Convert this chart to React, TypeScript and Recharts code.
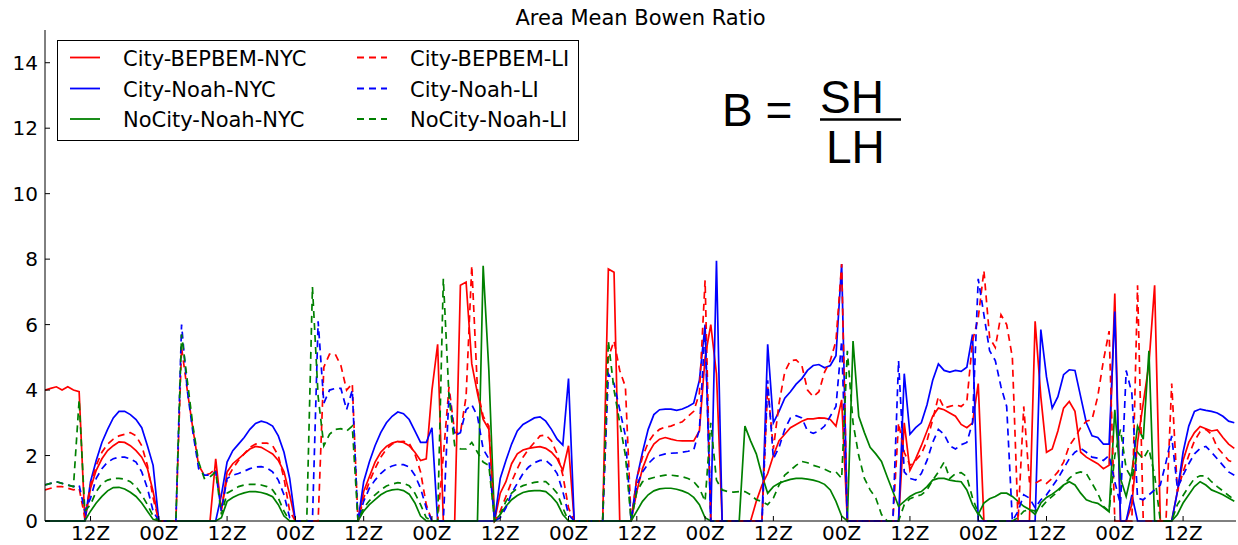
import React from 'react';
import { LineChart, Line, XAxis, YAxis } from 'recharts';

// hourly samples, hour 0 = 04Z on the first day
const redNyc = [
  4.0, 4.05, 4.1, 4.0, 4.1, 4.0, 3.95, 0, 1.0, 1.55,
  1.9, 2.15, 2.3, 2.42, 2.4, 2.3, 2.15, 1.95, 1.6, 0.9,
  0, 0, 0, 0, 0, 0, 0, 0, 0, 0,
  1.9, 0.3, 1.5, 1.75, 1.9, 2.05, 2.2, 2.28, 2.25, 2.15,
  2.05, 1.85, 1.5, 0.8, 0, 0, 0, 0, 0, 0,
  0, 0, 0, 0, 0, 0, 0.9, 1.35, 1.8, 2.1,
  2.28, 2.38, 2.43, 2.4, 2.3, 2.1, 1.85, 1.9, 4.0, 5.4,
  0, 0, 0, 7.2, 7.3, 4.8, 3.9, 3.1, 2.8, 0,
  0.85, 1.2, 1.75, 2.05, 2.17, 2.22, 2.25, 2.27, 2.22, 2.1,
  1.9, 1.55, 2.3, 0, 0, 0, 0, 0, 0, 7.7,
  7.6, 0, 0, 0, 0.9, 1.6, 2.05, 2.35, 2.5, 2.55,
  2.5, 2.46, 2.45, 2.45, 2.45, 2.75, 5.0, 6.0, 4.5, 0,
  0, 0, 0, 0, 0, 0.6, 1.1, 1.45, 2.0, 2.45,
  2.65, 2.85, 2.95, 3.05, 3.12, 3.12, 3.15, 3.14, 3.1, 2.9,
  3.7, 0, 0, 0, 0, 0, 0, 0, 0, 0,
  0, 3.0, 1.55, 1.9, 2.3, 2.75, 3.2, 3.45, 3.4, 3.3,
  3.2, 2.95, 2.85, 3.0, 4.2, 0, 0, 0, 0, 0,
  0, 0, 0, 0, 6.1, 3.8, 2.1, 2.2, 2.75, 3.45,
  3.65, 3.35, 2.1, 1.95, 1.85, 1.75, 1.6, 1.7, 6.95, 0,
  0, 0.5, 2.4, 3.6, 4.8, 7.2, 0, 0, 0, 0.9,
  1.85, 2.4, 2.7, 2.89, 2.82, 2.75, 2.78, 2.55, 2.35, 2.22,
];

const blueNyc = [
  0, 0, 0, 0, 0, 0, 0, 0, 1.2, 1.85,
  2.4, 2.8, 3.15, 3.35, 3.35, 3.25, 3.1, 2.85, 2.3, 1.7,
  0, 0, 0, 0, 0, 0, 0, 0, 0, 0,
  0, 0.8, 1.8, 2.15, 2.35, 2.55, 2.8, 2.98, 3.05, 3.0,
  2.9, 2.6, 2.1, 1.3, 0, 0, 0, 0, 0, 0,
  0, 0, 0, 0, 0, 0, 1.2, 1.8, 2.3, 2.7,
  3.0, 3.2, 3.33, 3.28, 3.1, 2.75, 2.4, 2.4, 2.85, 0,
  0, 0, 0, 0, 0, 0, 0, 0, 0, 0,
  1.3, 1.85, 2.35, 2.75, 2.95, 3.05, 3.15, 3.18, 3.05, 2.8,
  2.5, 2.32, 4.35, 0, 0, 0, 0, 0, 0, 0,
  0, 0, 0, 0, 1.3, 2.1, 2.8, 3.25, 3.4, 3.42,
  3.42, 3.38, 3.42, 3.5, 3.6, 4.3, 6.0, 0, 7.95, 0,
  0, 0, 0, 0, 0, 0, 0, 5.4, 3.0, 3.35,
  3.75, 3.95, 4.18, 4.35, 4.6, 4.75, 4.78, 4.68, 4.75, 5.05,
  7.85, 0, 0, 0, 0, 0, 0, 0, 0, 0,
  0, 4.5, 2.65, 2.85, 3.0, 3.55, 4.3, 4.8, 4.6, 4.55,
  4.6, 4.57, 4.7, 5.7, 0, 0, 0, 0, 0, 0,
  0, 0, 0, 0, 0, 5.85, 4.4, 3.45, 3.8, 4.47,
  4.62, 4.6, 3.8, 3.0, 2.6, 2.55, 2.35, 2.35, 6.4, 0,
  0, 0.8, 0, 0, 0, 0, 0, 0, 0, 0.9,
  2.1, 2.9, 3.35, 3.42, 3.38, 3.35, 3.3, 3.2, 3.05, 3.0,
];

const greenNyc = [
  0, 0, 0, 0, 0, 0, 0, 0, 0.3, 0.55,
  0.75, 0.92, 1.02, 1.03, 0.98, 0.88, 0.75, 0.55, 0.3, 0.05,
  0, 0, 0, 0, 0, 0, 0, 0, 0, 0,
  0, 0.1, 0.6, 0.72, 0.8, 0.86, 0.9, 0.9, 0.87, 0.82,
  0.74, 0.5, 0.15, 0, 0, 0, 0, 0, 0, 0,
  0, 0, 0, 0, 0, 0, 0.3, 0.5, 0.65, 0.8,
  0.9, 0.95, 0.97, 0.93, 0.82, 0.55, 0.15, 0, 0, 0,
  0, 0, 0, 0, 0, 0, 0, 7.8, 4.6, 0,
  0.2, 0.45, 0.65, 0.78, 0.87, 0.91, 0.93, 0.93, 0.9, 0.75,
  0.55, 0.2, 0, 0, 0, 0, 0, 0, 0, 0,
  0, 0, 0, 0, 0.3, 0.6, 0.8, 0.92, 0.98, 1.0,
  1.0, 0.97, 0.92, 0.85, 0.72, 0.5, 0.1, 0, 0, 0,
  0, 0, 0, 2.9, 2.45, 2.05, 1.4, 0.85, 1.05, 1.15,
  1.22, 1.27, 1.3, 1.3, 1.28, 1.25, 1.2, 1.12, 0.95, 0.6,
  0.15, 0, 5.5, 3.2, 2.7, 2.25, 2.05, 1.82, 1.35, 0.9,
  0.45, 0.6, 0.75, 0.85, 0.9, 1.05, 1.25, 1.3, 1.3, 1.25,
  1.22, 1.2, 0.95, 0.5, 0.2, 0.55, 0.68, 0.75, 0.85, 0.85,
  0.75, 0.6, 0.45, 0.35, 0.2, 0.55, 0.72, 0.82, 0.95, 1.1,
  1.2, 1.1, 0.85, 0.65, 0.58, 0.54, 0.42, 0.28, 3.4, 1.3,
  0.75, 1.5, 2.9, 2.5, 5.2, 0, 0, 0, 0, 0.2,
  0.55, 0.8, 1.05, 1.2, 1.1, 0.95, 0.88, 0.8, 0.7, 0.6,
];

const redLi = [
  0.95, 1.0, 1.05, 1.05, 1.0, 0.95, 1.0, 0.1, 1.1, 1.7,
  2.1, 2.35, 2.5, 2.6, 2.65, 2.7, 2.6, 2.3, 1.7, 0.7,
  0, 0, 0, 0, 5.3, 4.0, 2.8, 1.7, 1.4, 1.45,
  1.6, 0.4, 1.3, 1.6, 1.85, 2.05, 2.25, 2.35, 2.38, 2.38,
  2.3, 2.0, 1.3, 0.3, 0, 0, 0, 0, 0, 4.7,
  5.1, 5.1, 4.75, 4.0, 4.2, 0, 0.7, 1.2, 1.6, 1.95,
  2.2, 2.35, 2.42, 2.43, 2.38, 2.05, 1.5, 0.5, 0, 0,
  2.0, 4.1, 2.7, 2.7, 3.8, 7.8, 4.0, 3.2, 2.9, 0,
  0.3, 0.75, 1.2, 1.6, 1.95, 2.2, 2.4, 2.6, 2.63, 2.45,
  2.05, 1.4, 0.4, 0, 0, 0, 0, 0, 0, 5.0,
  5.5, 4.6, 4.1, 0, 1.3, 1.95, 2.4, 2.65, 2.8, 2.87,
  2.9, 2.97, 3.03, 3.2, 3.35, 3.9, 7.35, 0, 0, 0,
  0, 0, 0, 0, 0, 0, 0, 4.1, 2.2, 3.6,
  4.55, 4.9, 4.92, 4.75, 4.0, 3.8, 3.95, 4.55, 4.9, 5.5,
  7.85, 0, 0, 0, 0, 0, 0, 0, 0, 0,
  3.0, 2.1, 1.7, 1.85, 2.05, 2.45, 3.1, 3.8, 3.45, 3.5,
  3.55, 3.5, 3.65, 5.5, 6.2, 7.65, 5.6, 5.3, 6.3, 6.0,
  5.0, 0, 3.5, 1.2, 1.15, 1.25, 1.15, 1.3, 1.5, 1.8,
  2.3, 2.55, 2.85, 3.05, 3.1, 3.8, 4.9, 5.8, 0, 0,
  0, 0, 7.2, 0, 0, 0, 0, 0, 4.2, 0.9,
  1.5, 2.0, 2.45, 2.73, 2.8, 2.65, 2.25, 2.05, 1.85, 1.78,
];

const blueLi = [
  1.1, 1.15, 1.2, 1.15, 1.1, 1.05, 1.1, 0.3, 0.7, 1.3,
  1.6, 1.8, 1.9, 1.95, 1.95, 1.9, 1.8, 1.5, 1.0, 0.3,
  0, 0, 0, 0, 6.0, 4.0, 2.7, 1.6, 1.4, 1.4,
  1.5, 0.3, 1.3, 1.4, 1.45, 1.52, 1.6, 1.65, 1.66, 1.62,
  1.5, 1.25, 0.8, 0.1, 0, 0, 0, 0, 6.1, 3.6,
  4.0, 4.05, 4.05, 3.4, 4.0, 0, 0.6, 1.0, 1.25, 1.45,
  1.6, 1.68, 1.73, 1.72, 1.65, 1.4, 1.0, 0.4, 0, 0,
  0, 3.9, 2.6, 2.7, 3.4, 3.55, 3.2, 2.2, 1.9, 0,
  0.1, 0.4, 0.85, 1.15, 1.45, 1.65, 1.78, 1.85, 1.85, 1.7,
  1.45, 0.9, 0.2, 0, 0, 0, 0, 0, 0, 4.5,
  4.2, 3.4, 2.6, 0, 1.1, 1.5, 1.75, 1.92, 2.0, 2.05,
  2.07, 2.08, 2.1, 2.13, 2.17, 2.8, 5.9, 0, 0, 0,
  0, 0, 0, 0, 0, 0, 0, 4.3, 1.9, 2.25,
  2.8, 3.15, 3.22, 3.15, 2.75, 2.68, 2.75, 2.9, 3.2, 3.5,
  5.5, 0, 0, 0, 0, 0, 0, 0, 0, 0,
  4.9, 1.5, 1.3, 1.25, 1.45, 1.85, 2.4, 2.8, 2.65, 2.3,
  2.2, 2.33, 2.4, 3.0, 7.4, 6.3, 5.2, 4.9, 4.1, 3.5,
  0, 0.3, 0.8, 0.7, 0.4, 0.65, 0.8, 1.05, 1.3, 1.6,
  1.9, 2.1, 2.22, 2.1, 1.95, 1.92, 1.85, 2.0, 1.2, 0.5,
  4.6, 3.9, 0.7, 0.65, 0.8, 0.95, 1.1, 1.8, 2.6, 1.0,
  1.4, 1.75, 2.05, 2.22, 2.28, 2.1, 1.9, 1.7, 1.5, 1.4,
];

const greenLi = [
  1.1, 1.15, 1.2, 1.15, 1.1, 1.05, 3.7, 0.3, 0.5, 0.9,
  1.15, 1.25, 1.3, 1.3, 1.28, 1.2, 1.05, 0.8, 0.5, 0.15,
  0, 0, 0, 0, 5.7, 4.3, 2.9, 1.8, 1.3, 1.35,
  1.5, 0.2, 0.85, 0.95, 1.05, 1.1, 1.12, 1.12, 1.1, 1.05,
  0.95, 0.7, 0.3, 0, 0, 0, 0, 7.15, 3.8, 2.3,
  2.65, 2.8, 2.82, 2.75, 2.9, 0, 0.4, 0.62, 0.8, 0.95,
  1.07, 1.13, 1.17, 1.15, 1.08, 0.85, 0.5, 0.1, 0, 0,
  7.4, 3.8, 2.3, 2.2, 2.2, 2.4, 2.1, 1.8, 1.7, 0,
  0.2, 0.6, 0.85, 1.0, 1.08, 1.13, 1.18, 1.2, 1.2, 1.05,
  0.85, 0.4, 0, 0, 0, 0, 0, 0, 0, 5.5,
  4.0, 3.0, 2.0, 0, 0.9, 1.2, 1.28, 1.33, 1.37, 1.4,
  1.4, 1.38, 1.35, 1.3, 1.2, 1.0, 0.6, 3.0, 1.25, 0.95,
  0.9, 0.88, 0.9, 0.9, 0.8, 0.65, 0.6, 0.5, 0.7, 1.1,
  1.4, 1.55, 1.7, 1.82, 1.78, 1.7, 1.65, 1.58, 1.5, 1.5,
  1.3, 5.2, 3.0, 2.0, 1.3, 0.95, 0.7, 0.2, 0, 0,
  0, 0.5, 0.68, 0.75, 0.8, 0.95, 1.25, 1.5, 1.8, 1.3,
  1.45, 1.48, 1.35, 0.7, 0.25, 0, 0, 0, 0, 0,
  0, 0.1, 0.3, 0.35, 0.3, 0.4, 0.6, 0.75, 0.9, 1.1,
  1.3, 1.45, 1.5, 1.45, 1.15, 0.85, 0.45, 0.3, 2.0, 2.8,
  1.6, 1.3, 2.1, 1.9, 2.2, 1.4, 0, 0, 0, 0.5,
  0.78, 1.05, 1.3, 1.38, 1.38, 1.2, 1.05, 0.92, 0.78, 0.65,
];

const tickHours = [8, 20, 32, 44, 56, 68, 80, 92, 104, 116, 128, 140, 152, 164, 176, 188, 200];
const tickLabels = ['12Z', '00Z', '12Z', '00Z', '12Z', '00Z', '12Z', '00Z', '12Z', '00Z', '12Z', '00Z', '12Z', '00Z', '12Z', '00Z', '12Z'];
const yTicks = [0, 2, 4, 6, 8, 10, 12, 14];

const series = [
  { key: 'redNyc', name: 'City-BEPBEM-NYC', color: '#ff0000', dashed: false, values: redNyc },
  { key: 'blueNyc', name: 'City-Noah-NYC', color: '#0000ff', dashed: false, values: blueNyc },
  { key: 'greenNyc', name: 'NoCity-Noah-NYC', color: '#008000', dashed: false, values: greenNyc },
  { key: 'redLi', name: 'City-BEPBEM-LI', color: '#ff0000', dashed: true, values: redLi },
  { key: 'blueLi', name: 'City-Noah-LI', color: '#0000ff', dashed: true, values: blueLi },
  { key: 'greenLi', name: 'NoCity-Noah-LI', color: '#008000', dashed: true, values: greenLi },
];

const rows = redNyc.map((_, i) => {
  const row: Record<string, number> = { hour: i };
  series.forEach((s) => {
    row[s.key] = s.values[i];
  });
  return row;
});

const FONT = 'DejaVu Sans';
const DASH = '7 5';
const tickStyle = { fill: '#000', fontSize: 20, fontFamily: FONT };

function Overlay() {
  const rowsY = [57.5, 88.5, 119];
  return (
    <svg width={1238} height={545} style={{ position: 'absolute', left: 0, top: 0, pointerEvents: 'none' }}>
      <text x={640.5} y={25} textAnchor="middle" fontSize={21} fontFamily={FONT} fill="#000">
        Area Mean Bowen Ratio
      </text>
      <rect x={57.5} y={40.5} width={521} height={100} fill="#fff" stroke="#000" strokeWidth={1} />
      {series.map((s, i) => {
        const col = i < 3 ? 0 : 1;
        const y = rowsY[i % 3];
        const lx = col === 0 ? 70 : 357;
        const tx = col === 0 ? 123 : 410;
        return (
          <g key={s.key}>
            <line x1={lx} x2={lx + 30} y1={y} y2={y} stroke={s.color} strokeWidth={1.8}
              strokeDasharray={s.dashed ? DASH : undefined} />
            <text x={tx} y={y + 8} fontSize={21} fontFamily={FONT} fill="#000">{s.name}</text>
          </g>
        );
      })}
      <g fontFamily="Liberation Sans" fontSize={46} fill="#000">
        <text x={722} y={126}>B =</text>
        <text x={820} y={113}>SH</text>
        <text x={826} y={163}>LH</text>
      </g>
      <line x1={820} x2={901} y1={119.5} y2={119.5} stroke="#000" strokeWidth={2.5} />
    </svg>
  );
}

export default function App() {
  return (
    <div style={{ position: 'absolute', left: 0, top: 0, width: 1238, height: 545, background: '#fff' }}>
      <LineChart width={1238} height={545} data={rows} margin={{ top: 30, right: 2, bottom: 0, left: 0 }}>
        <XAxis
          dataKey="hour"
          type="number"
          domain={[0, 209.3]}
          allowDataOverflow
          ticks={tickHours}
          interval={0}
          tickFormatter={(v: number) => tickLabels[tickHours.indexOf(v)]}
          height={24}
          tickSize={-5}
          tickMargin={10}
          axisLine={{ stroke: '#000' }}
          tickLine={{ stroke: '#000' }}
          tick={tickStyle}
        />
        <XAxis
          xAxisId="top"
          orientation="top"
          dataKey="hour"
          type="number"
          domain={[0, 209.3]}
          allowDataOverflow
          ticks={tickHours}
          interval={0}
          height={0}
          tickSize={-5}
          tick={false}
          axisLine={{ stroke: '#000' }}
          tickLine={{ stroke: '#000' }}
        />
        <YAxis
          type="number"
          domain={[0, 15]}
          ticks={yTicks}
          interval={0}
          width={45}
          tickSize={-5}
          tickMargin={12}
          axisLine={{ stroke: '#000' }}
          tickLine={{ stroke: '#000' }}
          tick={tickStyle}
        />
        <YAxis
          yAxisId="right"
          orientation="right"
          type="number"
          domain={[0, 15]}
          ticks={yTicks}
          interval={0}
          width={0}
          tickSize={-5}
          tick={false}
          axisLine={{ stroke: '#000' }}
          tickLine={{ stroke: '#000' }}
        />
        {series.map((s) => (
          <Line
            key={s.key}
            type="linear"
            dataKey={s.key}
            name={s.name}
            stroke={s.color}
            strokeWidth={1.7}
            strokeDasharray={s.dashed ? DASH : undefined}
            dot={false}
            activeDot={false}
            isAnimationActive={false}
          />
        ))}
      </LineChart>
      <Overlay />
    </div>
  );
}
